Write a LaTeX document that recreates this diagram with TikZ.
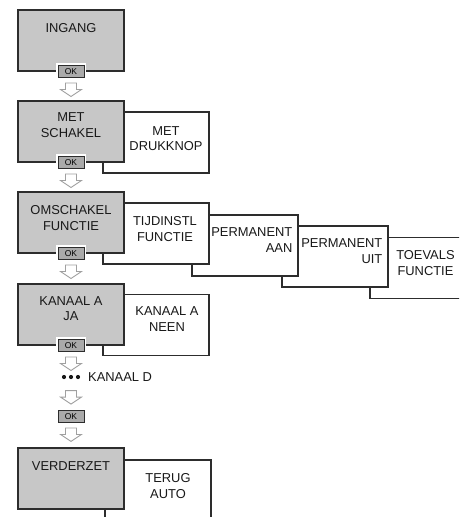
\documentclass[tikz,border=0pt]{standalone}
\usepackage{fontspec}
\setmainfont{Liberation Sans}
\usetikzlibrary{positioning, calc}

\definecolor{vakgrijs}{RGB}{199,199,199}
\definecolor{knopgrijs}{RGB}{170,170,170}
\definecolor{randkleur}{RGB}{45,45,45}
\definecolor{pijlgrijs}{RGB}{160,160,160}

\tikzset{
  menu/.style={draw=randkleur, line width=1.1pt, fill=vakgrijs,
    minimum width=106pt, minimum height=61pt, inner sep=0pt},
  keuze/.style={menu, fill=white},
  tekst/.style={font=\fontsize{12.9}{15.5}\selectfont, align=center,
    inner sep=0pt, text=black!90},
  okknop/.style={draw=randkleur, fill=knopgrijs, line width=0.9pt,
    minimum width=26pt, minimum height=12pt, inner sep=0pt,
    font=\fontsize{8.5}{8.5}\selectfont, preaction={draw=white, line width=4.5pt}},
  pics/omlaag/.style={code={
    \draw[pijlgrijs, fill=white, line width=0.9pt] (-5.5,0) -- (5.5,0) -- (5.5,6.5)
      -- (10.5,6.5) -- (0,13.5) -- (-10.5,6.5) -- (-5.5,6.5) -- cycle;}}
}

\begin{document}
\begin{tikzpicture}[x=1pt, y=-1pt]
  \clip (0,0) rectangle (459,517);

  % ingang
  \node[menu] (ingang) at (71,40.5) {};
  \node[tekst] (t-ingang) at ($(ingang.north)+(0,19)$) {INGANG};
  \node[okknop] (ok1) at (ingang.south) {OK};
  \pic at ($(ok1.south)+(0,5)$) {omlaag};

  % met schakel / met drukknop
  \node[keuze] (druk) at (156,142.5) {};
  \node[tekst] (t-druk) at ($(druk.north)+(10,27)$) {MET\\DRUKKNOP};
  \node[menu] (schakel) at (71,131.5) {};
  \node[tekst] (t-schakel) at ($(schakel.north)+(0,24.5)$) {MET\\SCHAKEL};
  \node[okknop] (ok2) at (schakel.south) {OK};
  \pic at ($(ok2.south)+(0,5)$) {omlaag};

  % omschakelfunctie en de keuzes daarachter
  \node[keuze] (toevals) at (423,268) {};
  \node[tekst] (t-toevals) at ($(toevals.north west)+(56,26)$) {TOEVALS\\FUNCTIE};
  \node[keuze] (uit) at (335,256.5) {};
  \node[tekst, align=right, anchor=east] (t-uit) at ($(uit.north east)+(-6,25.5)$) {PERMANENT\\UIT};
  \node[keuze] (aan) at (245,245.5) {};
  \node[tekst, align=right, anchor=east] (t-aan) at ($(aan.north east)+(-6,25.5)$) {PERMANENT\\AAN};
  \node[keuze] (tijd) at (156,233.5) {};
  \node[tekst] (t-tijd) at ($(tijd.north)+(9,26.5)$) {TIJDINSTL\\FUNCTIE};
  \node[menu] (omschakel) at (71,222.5) {};
  \node[tekst] (t-omschakel) at ($(omschakel.north)+(0,26.5)$) {OMSCHAKEL\\FUNCTIE};
  \node[okknop] (ok3) at (omschakel.south) {OK};
  \pic at ($(ok3.south)+(0,5)$) {omlaag};

  % kanaal a
  \node[keuze] (neen) at (156,325) {};
  \node[tekst] (t-neen) at ($(neen.north)+(11,25)$) {KANAAL A\\NEEN};
  \node[menu] (kanaal) at (71,314.5) {};
  \node[tekst] (t-kanaal) at ($(kanaal.north)+(0,25)$) {KANAAL A\\JA};
  \node[okknop] (ok4) at (kanaal.south) {OK};
  \pic at ($(ok4.south)+(0,5)$) {omlaag};

  % kanaal b .. d
  \foreach \dx in {-7,0,7}
    \fill[black!90] ($(71,377)+(\dx,0)$) circle (2.1);
  \node[tekst, anchor=west] (t-kanaald) at (88,377) {KANAAL D};
  \node[okknop] (ok5) at (71,416.5) {OK};
  \pic at ($(ok5.north)+(0,-19.5)$) {omlaag};
  \pic at ($(ok5.south)+(0,5)$) {omlaag};

  % verderzet / terug auto
  \node[keuze] (terug) at (158,490.5) {};
  \node[tekst] (t-terug) at ($(terug.north)+(10,26.5)$) {TERUG\\AUTO};
  \node[menu] (verder) at (71,478.5) {};
  \node[tekst] (t-verder) at ($(verder.north)+(0,19)$) {VERDERZET};
\end{tikzpicture}
\end{document}
